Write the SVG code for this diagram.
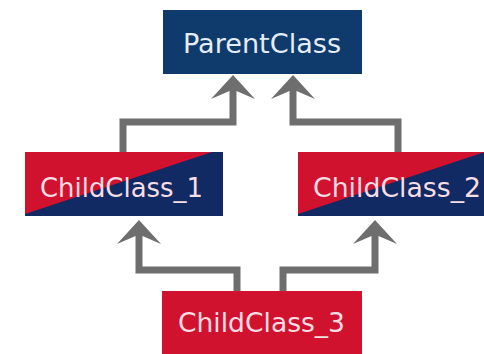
<svg xmlns="http://www.w3.org/2000/svg" width="484" height="354" viewBox="0 0 484 354">
  <style>
    .label { font-family: "DejaVu Sans", "Liberation Sans", sans-serif; font-size: 26px; }
    .light { fill: #e4ecf6; }
    .pink { fill: #f7dde4; }
    .navy { fill: #0f3a6c; }
    .deep { fill: #122a63; }
    .red { fill: #d0122e; }
    .wire { fill: none; stroke: #6e6e6e; stroke-width: 7; stroke-linejoin: miter; marker-end: url(#head); }
  </style>
  <defs>
    <!-- barbed arrowhead, tip 12px beyond the end of the wire -->
    <marker id="head" markerUnits="userSpaceOnUse" orient="auto" refX="-12" refY="0" markerWidth="60" markerHeight="60" viewBox="-30 -30 60 60" overflow="visible">
      <path d="M0,0 L-24,-22 L-16,-3.5 L-16,3.5 L-24,22 Z" fill="#6e6e6e"/>
    </marker>
  </defs>

  <rect width="484" height="354" fill="#ffffff"/>

  <g id="connectors">
    <path class="wire" d="M123,152 V122 H233 V87"/>
    <path class="wire" d="M398,152 V122 H293 V87"/>
    <path class="wire" d="M237,292 V270 H139 V232"/>
    <path class="wire" d="M283,292 V270 H375 V232"/>
  </g>

  <g id="parent-class">
    <rect class="navy" x="163" y="10" width="199" height="64"/>
    <text class="label light" x="183" y="53" textLength="158" lengthAdjust="spacingAndGlyphs">ParentClass</text>
  </g>

  <g id="child-class-1">
    <rect class="deep" x="25" y="152" width="198" height="64"/>
    <polygon class="red" points="25,152 212,152 25,214"/>
    <text class="label pink" x="40" y="197" textLength="163" lengthAdjust="spacingAndGlyphs">ChildClass_1</text>
  </g>

  <g id="child-class-2">
    <rect class="deep" x="298" y="152" width="186" height="64"/>
    <polygon class="red" points="298,152 485,152 298,214"/>
    <text class="label pink" x="313" y="197" textLength="168" lengthAdjust="spacingAndGlyphs">ChildClass_2</text>
  </g>

  <g id="child-class-3">
    <rect class="red" x="162" y="291" width="200" height="63"/>
    <text class="label pink" x="178" y="332" textLength="167" lengthAdjust="spacingAndGlyphs">ChildClass_3</text>
  </g>
</svg>
